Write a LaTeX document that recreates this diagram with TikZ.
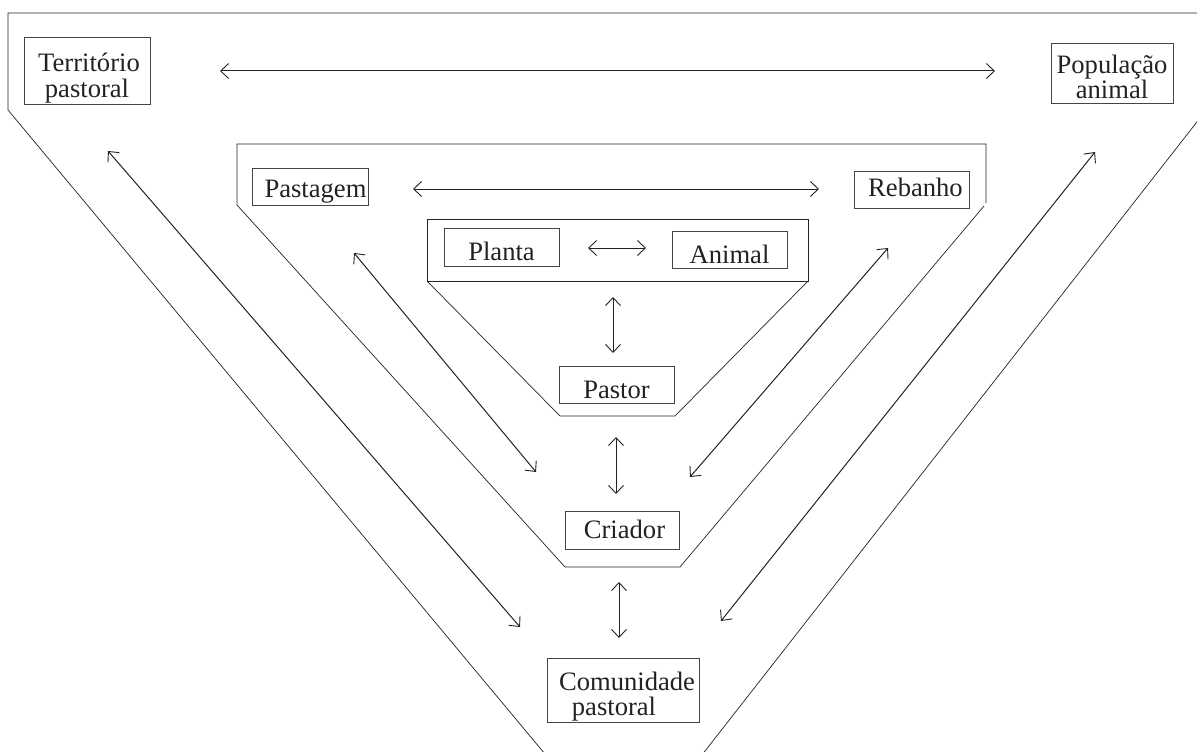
\documentclass[tikz,border=0pt]{standalone}
\usepackage{fontspec}
\setmainfont{Liberation Serif}
\usetikzlibrary{arrows.meta}
\definecolor{inkc}{HTML}{222222}
\definecolor{boxc}{HTML}{444444}
\tikzset{
  x=1pt, y=-1pt,
  frame/.style={draw=inkc, line width=0.7pt, line join=miter},
  link/.style={draw=inkc, line width=1pt, {Straight Barb[length=8pt,width=15pt,line width=0.9pt]}-{Straight Barb[length=8pt,width=15pt,line width=0.9pt]}},
  box/.style={draw=boxc, line width=1pt, inner sep=0pt, font=\fontsize{26.6}{25}\selectfont, text=inkc},
  two/.style={box, align=center}
}
\begin{document}
\begin{tikzpicture}
\useasboundingbox (0,0) rectangle (1197,752);
% frames
\draw[frame] (550,760) -- (8,110) -- (8,13) -- (1200,13) -- (1200,118) -- (698,760);
\draw[frame] (986,203) -- (986,144) -- (237,144) -- (237,205) -- (565,567) -- (680,567) -- (984,206);
\draw[frame] (427,219) rectangle (808,281);
\draw[frame] (427,281) -- (560,416) -- (675,416) -- (808,281);
% boxes
\node[two, minimum width=126pt, minimum height=66pt, text height=52pt, text depth=0pt] (terr) at (87,71) {\hspace*{4pt}Território\\pastoral};
\node[two, minimum width=122pt, minimum height=59pt, text height=50pt, text depth=0pt] (pop) at (1112,73.5) {População\\animal};
\node[box, minimum width=116pt, minimum height=37pt, text height=21pt, text depth=0pt] (past) at (310,186.5) {\hspace*{11pt}Pastagem};
\node[box, minimum width=115pt, minimum height=37pt, text height=13pt, text depth=0pt] (reb) at (911.5,189.5) {\hspace*{8pt}Rebanho};
\node[box, minimum width=115pt, minimum height=38pt, text height=26pt, text depth=0pt] (planta) at (501.5,247) {Planta};
\node[box, minimum width=115pt, minimum height=37pt, text height=27pt, text depth=0pt] (animal) at (729.5,249.5) {Animal};
\node[box, minimum width=115pt, minimum height=37pt, text height=27pt, text depth=0pt] (pastor) at (616.5,384.5) {Pastor};
\node[box, minimum width=114pt, minimum height=38pt, text height=16pt, text depth=0pt] (criador) at (622,530) {\hspace*{5pt}Criador};
\node[two, minimum width=152pt, minimum height=64pt, text height=51pt, text depth=0pt] (comun) at (623,690) {\hspace*{8pt}Comunidade\\pastoral\hspace*{18pt}};
% connector end points
\coordinate (a1l) at (220,71);  \coordinate (a1r) at (995,71);
\coordinate (a2l) at (413,189); \coordinate (a2r) at (819,189);
\coordinate (a3l) at (588,248); \coordinate (a3r) at (646,248);
\coordinate (a4t) at (613,297); \coordinate (a4b) at (613,353);
\coordinate (a5t) at (616,437); \coordinate (a5b) at (616,494);
\coordinate (a6t) at (619,582); \coordinate (a6b) at (619,638);
\coordinate (a7t) at (354,253); \coordinate (a7b) at (536,472);
\coordinate (a8t) at (888,248); \coordinate (a8b) at (690,477);
\coordinate (a9t) at (108,151); \coordinate (a9b) at (520,627);
\coordinate (a10t) at (1095,152); \coordinate (a10b) at (721,621);
% connectors
\draw[link] (a1l) -- (a1r);
\draw[link] (a2l) -- (a2r);
\draw[link] (a3l) -- (a3r);
\draw[link] (a4t) -- (a4b);
\draw[link] (a5t) -- (a5b);
\draw[link] (a6t) -- (a6b);
\draw[link] (a7t) -- (a7b);
\draw[link] (a8t) -- (a8b);
\draw[link] (a9t) -- (a9b);
\draw[link] (a10t) -- (a10b);
\end{tikzpicture}
\end{document}
